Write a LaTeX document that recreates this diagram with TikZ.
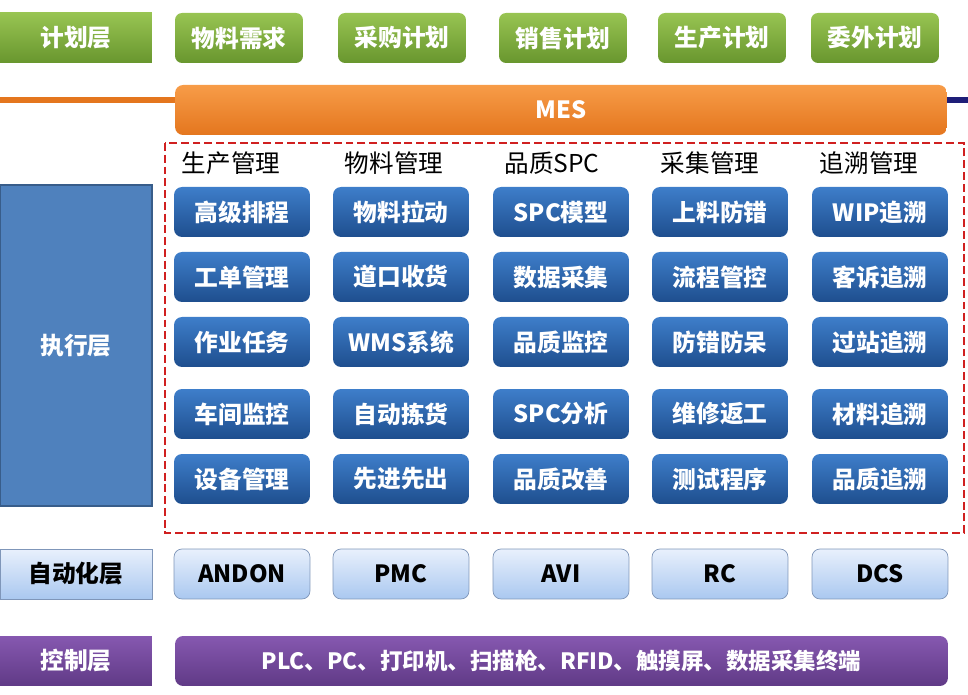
\documentclass[tikz,border=0pt]{standalone}
\usepackage{fontspec}
\setmainfont{Noto Sans CJK SC}
\usetikzlibrary{calc}

\definecolor{planTop}{RGB}{152,196,82}
\definecolor{planBot}{RGB}{104,150,46}
\definecolor{mesTop}{RGB}{247,156,72}
\definecolor{mesBot}{RGB}{228,118,30}
\definecolor{execTop}{RGB}{62,126,202}
\definecolor{execBot}{RGB}{30,78,142}
\definecolor{execLayer}{RGB}{79,129,189}
\definecolor{execEdge}{RGB}{56,93,138}
\definecolor{autoTop}{RGB}{232,240,252}
\definecolor{autoBot}{RGB}{170,200,240}
\definecolor{autoEdge}{RGB}{127,150,185}
\definecolor{ctrlTop}{RGB}{134,88,176}
\definecolor{ctrlBot}{RGB}{96,58,134}
\definecolor{dashRed}{RGB}{208,32,32}
\definecolor{navyLine}{RGB}{30,30,120}

\newcommand{\boxfont}{\fontsize{13.5}{16}\selectfont}

\tikzset{
  layerbox/.style={minimum width=3.04cm,minimum height=1cm,inner sep=0pt,font=\boxfont\bfseries},
  planbox/.style={rounded corners=0.14cm,minimum width=2.56cm,minimum height=1cm,inner sep=0pt,
    top color=planTop,bottom color=planBot,text=white,font=\boxfont\bfseries},
  execbox/.style={rounded corners=0.16cm,minimum width=2.72cm,minimum height=1cm,inner sep=0pt,
    top color=execTop,bottom color=execBot,text=white,font=\boxfont\bfseries},
  autobox/.style={rounded corners=0.16cm,minimum width=2.72cm,minimum height=1cm,inner sep=0pt,
    draw=autoEdge,top color=autoTop,bottom color=autoBot,text=black,font=\boxfont\bfseries},
  colhead/.style={font=\fontsize{14}{16}\selectfont},
}

\begin{document}
\begin{tikzpicture}[x=0.02cm,y=-0.02cm]
      \useasboundingbox (0,0) rectangle (968,695);
      % planning layer
      \node[layerbox,top color=planTop,bottom color=planBot,text=white] (planLayer) at (76,38) {计划层};
      \node[planbox] (matDemand) at (239,38) {物料需求};
      \node[planbox] (purPlan) at (402,38) {采购计划};
      \node[planbox] (salePlan) at (563,38) {销售计划};
      \node[planbox] (prodPlan) at (722,38) {生产计划};
      \node[planbox] (outPlan) at (875,38) {委外计划};
      %
      \node[rounded corners=0.16cm,minimum width=15.44cm,minimum height=1cm,inner sep=0pt,
        top color=mesTop,bottom color=mesBot,text=white,font=\boxfont\bfseries] (mes) at (561,110) {MES};
      \coordinate (lineL) at (0,100);
      \coordinate (lineR) at (968,100);
      \draw[mesBot,line width=1.3mm] (lineL) -- (lineL -| mes.west);
      \draw[navyLine,line width=1.1mm] (lineR -| mes.east) -- (lineR);
      % execution layer
      \node[layerbox,fill=execLayer,draw=execEdge,thick,minimum height=6.42cm,text=white] (execLayer) at (76,345.5) {执行层};
      \draw[dashRed,line width=1.3pt,dash pattern=on 4.5pt off 2.2pt] (165,143) rectangle (964,533);
      \node[colhead] (prodMgmt) at (231,163) {生产管理};
      \node[colhead] (matMgmt) at (394,163) {物料管理};
      \node[colhead] (qualSpc) at (552,163) {品质SPC};
      \node[colhead] (collMgmt) at (710,163) {采集管理};
      \node[colhead] (traceMgmt) at (869,163) {追溯管理};
      %
      \node[execbox] (advSched) at (242,212) {高级排程};
      \node[execbox] (workOrder) at (242,277) {工单管理};
      \node[execbox] (jobTask) at (242,342) {作业任务};
      \node[execbox] (shopMon) at (242,414) {车间监控};
      \node[execbox] (equipMgmt) at (242,479) {设备管理};
      %
      \node[execbox] (matPull) at (401,212) {物料拉动};
      \node[execbox] (dockRecv) at (401,277) {道口收货};
      \node[execbox] (wmsSys) at (401,342) {WMS系统};
      \node[execbox] (autoPick) at (401,414) {自动拣货};
      \node[execbox] (fifo) at (401,479) {先进先出};
      %
      \node[execbox] (spcModel) at (561,212) {SPC模型};
      \node[execbox] (dataColl) at (561,277) {数据采集};
      \node[execbox] (qualMon) at (561,342) {品质监控};
      \node[execbox] (spcAnal) at (561,414) {SPC分析};
      \node[execbox] (qualImp) at (561,479) {品质改善};
      %
      \node[execbox] (feedProof) at (720,212) {上料防错};
      \node[execbox] (flowCtrl) at (720,277) {流程管控};
      \node[execbox] (errProof) at (720,342) {防错防呆};
      \node[execbox] (repairRw) at (720,414) {维修返工};
      \node[execbox] (testProg) at (720,479) {测试程序};
      %
      \node[execbox] (wipTrace) at (880,212) {WIP追溯};
      \node[execbox] (complTrace) at (880,277) {客诉追溯};
      \node[execbox] (stationTrace) at (880,342) {过站追溯};
      \node[execbox] (matTrace) at (880,414) {材料追溯};
      \node[execbox] (qualTrace) at (880,479) {品质追溯};
      % automation layer
      \node[layerbox,draw=autoEdge,top color=autoTop,bottom color=autoBot,text=black] (autoLayer) at (76,574) {自动化层};
      \node[autobox] (andon) at (242,574) {ANDON};
      \node[autobox] (pmc) at (401,574) {PMC};
      \node[autobox] (avi) at (561,574) {AVI};
      \node[autobox] (rc) at (720,574) {RC};
      \node[autobox] (dcs) at (880,574) {DCS};
      % control layer
      \node[layerbox,top color=ctrlTop,bottom color=ctrlBot,text=white] (ctrlLayer) at (76,661) {控制层};
      \node[rounded corners=0.16cm,minimum width=15.46cm,minimum height=1cm,inner sep=0pt,
        top color=ctrlTop,bottom color=ctrlBot,text=white,font=\fontsize{12.8}{15}\selectfont\bfseries] (devices) at (561.5,661)
        {PLC、PC、打印机、扫描枪、RFID、触摸屏、数据采集终端};
    \end{tikzpicture}
\end{document}
